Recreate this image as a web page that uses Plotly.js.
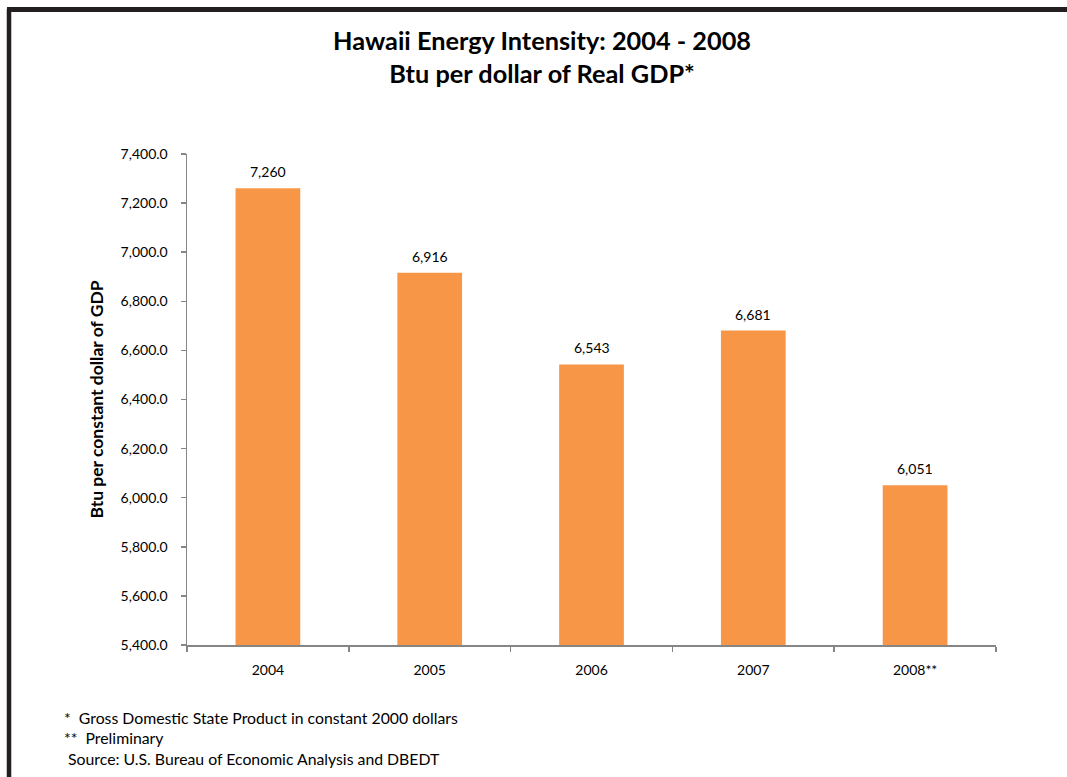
<!DOCTYPE html>
<html>
<head>
<meta charset="utf-8">
<script src="https://cdn.plot.ly/plotly-3.0.1.min.js"></script>
<style>
  html, body { margin: 0; padding: 0; background: #ffffff; }
  #chart { width: 1067px; height: 777px; }
</style>
</head>
<body>
<div id="chart"></div>
<script>
// Hawaii energy intensity, Btu per constant (2000) dollar of GDP
const years = ['2004', '2005', '2006', '2007', '2008**'];
const intensity = [7260, 6916, 6543, 6681, 6051];
const valueLabels = ['7,260', '6,916', '6,543', '6,681', '6,051'];
const yTicks = [5400, 5600, 5800, 6000, 6200, 6400, 6600, 6800, 7000, 7200, 7400];
const yTickLabels = ['5,400.0', '5,600.0', '5,800.0', '6,000.0', '6,200.0', '6,400.0',
                     '6,600.0', '6,800.0', '7,000.0', '7,200.0', '7,400.0'];
const footnotes = [
  '*  Gross Domestic State Product in constant 2000 dollars',
  '**  Preliminary',
  ' Source: U.S. Bureau of Economic Analysis and DBEDT'
];

const FONT = 'Lato, "Open Sans", "Liberation Sans", sans-serif';
const AXIS_GREY = '#868686';
const W = 1067, H = 777;
const M = { l: 187, r: 71, t: 154, b: 132 };
const plotW = W - M.l - M.r, plotH = H - M.t - M.b;

// convert page pixels into paper coordinates
const px = x => (x - M.l) / plotW;
const py = y => (H - M.b - y) / plotH;

const trace = {
  type: 'bar',
  x: years,
  y: intensity,
  marker: { color: '#F79646', line: { width: 0 } },
  hoverinfo: 'x+y'
};

// value labels sitting just above each bar (category index on the x axis)
const valueAnnots = intensity.map((v, i) => ({
  text: valueLabels[i],
  x: i, y: v,
  xref: 'x', yref: 'y',
  xanchor: 'center', yanchor: 'bottom',
  yshift: 6,
  showarrow: false,
  font: { family: FONT, size: 14, color: '#000000' }
}));

const footAnnots = footnotes.map((t, i) => ({
  text: t,
  xref: 'paper', yref: 'paper',
  x: px(62), y: py(717 + i * 20.5),
  xanchor: 'left', yanchor: 'middle',
  showarrow: false, align: 'left',
  font: { family: FONT, size: 15.8, color: '#000000' }
}));

const layout = {
  width: W, height: H,
  margin: M,
  paper_bgcolor: '#ffffff',
  plot_bgcolor: '#ffffff',
  showlegend: false,
  bargap: 0.6,
  font: { family: FONT, color: '#000000' },
  title: {
    text: '<b>Hawaii Energy Intensity: 2004 - 2008<br>Btu per dollar of Real GDP*</b>',
    font: { family: FONT, size: 25.3, color: '#000000' },
    xref: 'container', yref: 'container',
    x: 0.508, xanchor: 'center',
    y: 1 - 50 / H, yanchor: 'middle'
  },
  xaxis: {
    type: 'category',
    categoryorder: 'array', categoryarray: years,
    range: [-0.5, years.length - 0.5],
    showline: true, linecolor: AXIS_GREY, linewidth: 1.5,
    ticks: 'outside', tickson: 'boundaries', ticklen: 5, tickcolor: AXIS_GREY, tickwidth: 1.5,
    tickfont: { family: FONT, size: 14, color: '#000000' },
    ticklabelstandoff: 12,
    showgrid: false, zeroline: false,
    fixedrange: true
  },
  yaxis: {
    range: [5400, 7400],
    tickvals: yTicks, ticktext: yTickLabels,
    showline: true, linecolor: AXIS_GREY, linewidth: 1.5,
    ticks: 'outside', ticklen: 5, tickcolor: AXIS_GREY, tickwidth: 1.5,
    tickfont: { family: FONT, size: 14, color: '#000000' },
    ticklabelstandoff: 10,
    showgrid: false, zeroline: false,
    automargin: false,
    title: {
      text: '<b>Btu per constant dollar of GDP</b>',
      font: { family: FONT, size: 17.5, color: '#000000' },
      standoff: 12
    },
    fixedrange: true
  },
  shapes: [
    // frame edges along the left and top of the page
    { type: 'line', xref: 'paper', yref: 'paper', layer: 'above',
      x0: px(9), x1: px(9), y0: py(9), y1: py(H + 20),
      line: { color: '#231f20', width: 4.5 } },
    { type: 'line', xref: 'paper', yref: 'paper', layer: 'above',
      x0: px(7), x1: px(W + 20), y0: py(9.5), y1: py(9.5),
      line: { color: '#231f20', width: 5 } }
  ],
  annotations: valueAnnots.concat(footAnnots)
};

Plotly.newPlot('chart', [trace], layout, { displayModeBar: false, staticPlot: true });
</script>
</body>
</html>
